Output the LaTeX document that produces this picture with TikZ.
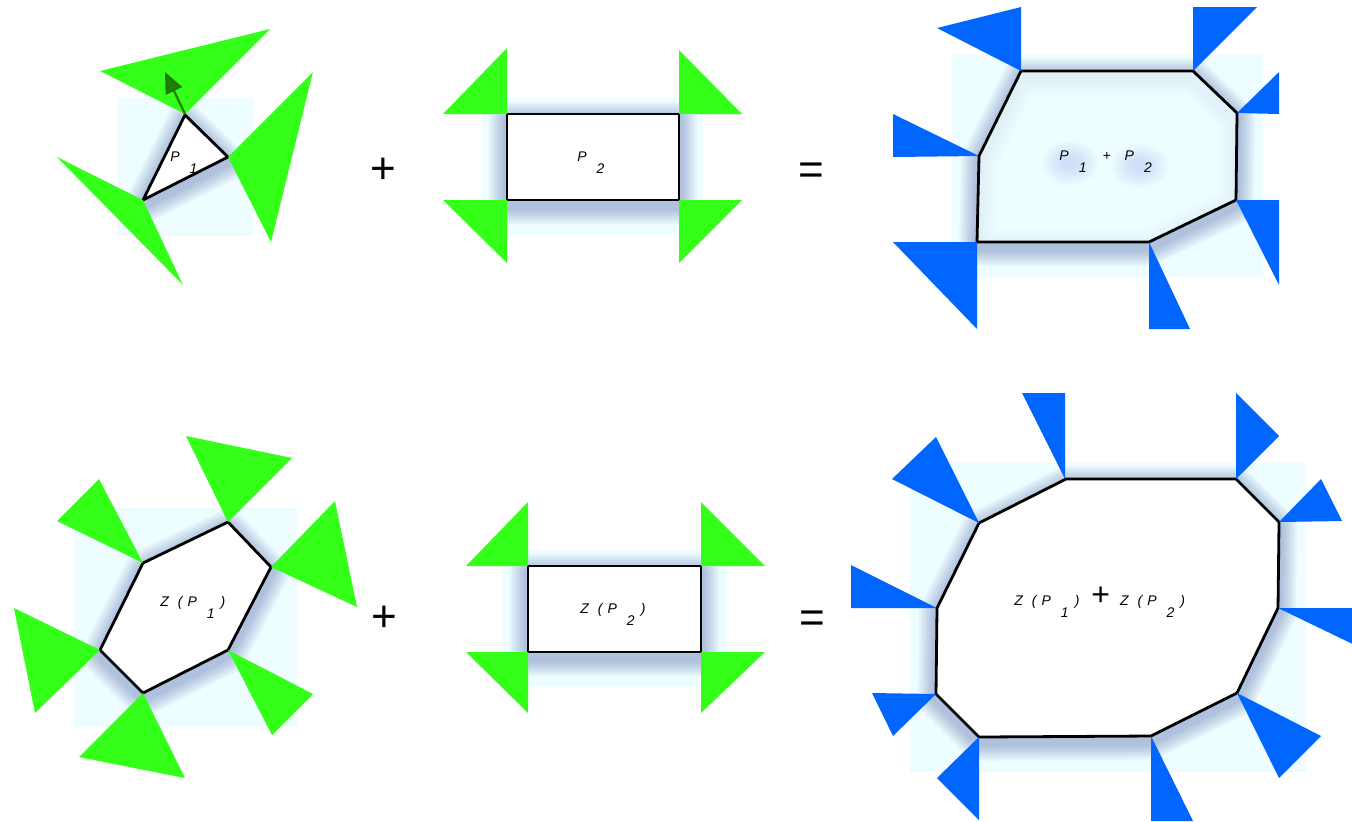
\documentclass[tikz,border=0pt]{standalone}
\usepackage{fontspec}
\setsansfont{Liberation Sans}
\usetikzlibrary{arrows.meta}
\definecolor{bgc}{RGB}{238,253,255}
\definecolor{grn}{RGB}{51,255,25}
\definecolor{blu}{RGB}{0,102,255}
\definecolor{shc}{RGB}{40,60,150}
\definecolor{arrc}{RGB}{30,115,5}
\definecolor{glc}{RGB}{110,140,240}
\newcommand{\polyshade}[1]{\foreach \w in {18,16,14,12,10,8,6,4}{\draw[shc,opacity=0.045,line width=\w pt,line join=round,yshift=-2.8pt] #1;}}
\newcommand{\subs}[1]{\hspace{5pt}\raisebox{-6pt}{#1}}
\begin{document}
\begin{tikzpicture}[x=0.5pt,y=-0.5pt,
  cone/.style={fill=grn},
  bcone/.style={fill=blu},
  bgbox/.style={fill=bgc},
  poly/.style={draw=black,line width=1.4pt,line join=round},
  lab/.style={font=\sffamily\itshape\fontsize{7}{8}\selectfont,anchor=base west,inner sep=0pt},
  op/.style={font=\sffamily\fontsize{22}{24}\selectfont,inner sep=0pt,anchor=base}]
\useasboundingbox (0,0) rectangle (1352,821);

% ---------- top left: P1
\fill[bgbox] (117,98) rectangle (253,236);
\polyshade{(185,115)--(228,157)--(143,200)--cycle}
\draw[poly,fill=white] (185,115)--(228,157)--(143,200)--cycle;
\fill[cone] (185,114)--(100,71)--(270,29)--cycle;
\fill[cone] (228,157)--(313,72)--(271,242)--cycle;
\fill[cone] (143,200)--(57,157)--(183,285)--cycle;
\coordinate (v1) at (185,114);
\coordinate (n1) at (165,72);
\draw[arrc,opacity=0.9,line width=1.1pt,-{Triangle[length=10.5pt,width=9pt]}] (v1) -- (n1);
\node[lab] (lp1) at (170,161) {P\subs{1}};

\node[op] (plus1) at (383,183) {+};

% ---------- top middle: P2
\fill[bgbox] (482,98) rectangle (703,235);
\polyshade{(507,114) rectangle (679,200)}
\draw[poly,fill=white] (507,114) rectangle (679,200);
\fill[cone] (507,48)--(443,114)--(507,114)--cycle;
\fill[cone] (679,50)--(742,114)--(679,114)--cycle;
\fill[cone] (443,200)--(507,200)--(507,263)--cycle;
\fill[cone] (679,200)--(742,200)--(679,263)--cycle;
\node[lab] (lp2) at (577,161) {P\subs{2}};

\node[op] (eq1) at (811,184) {=};

% ---------- top right: P1 + P2
\fill[bgbox] (952,55) rectangle (1263,277);
\polyshade{(1021,71)--(1193,71)--(1237,113)--(1236,200)--(1149,242)--(977,242)--(979,156)--cycle}
\draw[poly,fill=bgc,fill opacity=0.8] (1021,71)--(1193,71)--(1237,113)--(1236,200)--(1149,242)--(977,242)--(979,156)--cycle;
\foreach \r in {1,...,8}{
  \fill[glc,opacity=0.03] (1070,163) ellipse ({4+3*\r} and {3+2.4*\r});
  \fill[glc,opacity=0.03] (1140,166) ellipse ({4+3*\r} and {3+2.4*\r});
}
\fill[bcone] (1021,71)--(937,28)--(1021,7)--cycle;
\fill[bcone] (1193,71)--(1193,7)--(1257,7)--cycle;
\fill[bcone] (1237,113)--(1279,72)--(1279,114)--cycle;
\fill[bcone] (1236,200)--(1279,200)--(1279,285)--cycle;
\fill[bcone] (1149,242)--(1190,329)--(1149,329)--cycle;
\fill[bcone] (977,242)--(893,242)--(977,329)--cycle;
\fill[bcone] (979,156)--(893,114)--(893,157)--cycle;
\node[lab] (lsum) at (1059,160) {P\subs{1}\hspace{8pt}+\hspace{7pt}P\subs{2}};

% ---------- bottom left: Z(P1)
\fill[bgbox] (74,508) rectangle (297,727);
\polyshade{(143,563)--(228,522)--(271,567)--(228,650)--(143,693)--(100,650)--cycle}
\draw[poly,fill=white] (143,563)--(228,522)--(271,567)--(228,650)--(143,693)--(100,650)--cycle;
\fill[cone] (143,563)--(57,521)--(99,479)--cycle;
\fill[cone] (228,522)--(186,436)--(292,458)--cycle;
\fill[cone] (271,567)--(335,501)--(357,607)--cycle;
\fill[cone] (228,650)--(313,694)--(272,735)--cycle;
\fill[cone] (143,693)--(79,757)--(185,778)--cycle;
\fill[cone] (100,650)--(14,608)--(35,713)--cycle;
\node[lab] (lz1) at (160,606) {Z\hspace{4.5pt}(\hspace{2.5pt}P\subs{1}\hspace{3pt})};

\node[op] (plus2) at (384,631) {+};

% ---------- bottom middle: Z(P2)
\fill[bgbox] (503,550) rectangle (727,687);
\polyshade{(528,566) rectangle (701,652)}
\draw[poly,fill=white] (528,566) rectangle (701,652);
\fill[cone] (528,502)--(466,566)--(528,566)--cycle;
\fill[cone] (701,502)--(765,566)--(701,566)--cycle;
\fill[cone] (466,652)--(528,652)--(528,713)--cycle;
\fill[cone] (701,652)--(765,652)--(701,713)--cycle;
\node[lab] (lz2) at (580,613) {Z\hspace{4.5pt}(\hspace{2.5pt}P\subs{2}\hspace{3pt})};

\node[op] (eq2) at (812,632) {=};

% ---------- bottom right: Z(P1) + Z(P2)
\fill[bgbox] (910,463) rectangle (1306,772);
\polyshade{(979,523)--(1066,479)--(1236,479)--(1279,522)--(1278,608)--(1237,693)--(1151,736)--(979,737)--(936,694)--(937,608)--cycle}
\draw[poly,fill=white] (979,523)--(1066,479)--(1236,479)--(1279,522)--(1278,608)--(1237,693)--(1151,736)--(979,737)--(936,694)--(937,608)--cycle;
\fill[bcone] (979,523)--(892,479)--(936,437)--cycle;
\fill[bcone] (1065,479)--(1022,393)--(1065,393)--cycle;
\fill[bcone] (1236,479)--(1236,393)--(1279,436)--cycle;
\fill[bcone] (1279,522)--(1321,479)--(1342,521)--cycle;
\fill[bcone] (1278,608)--(1372,608)--(1363,649)--cycle;
\fill[bcone] (1237,693)--(1321,736)--(1279,778)--cycle;
\fill[bcone] (1151,736)--(1193,821)--(1151,821)--cycle;
\fill[bcone] (979,737)--(937,778)--(979,820)--cycle;
\fill[bcone] (936,694)--(872,693)--(893,736)--cycle;
\fill[bcone] (937,608)--(851,565)--(851,608)--cycle;
\node[lab] (lzsum) at (1014,605) {Z\hspace{4.5pt}(\hspace{2.5pt}P\subs{1}\hspace{3pt})\hspace{6pt}{\upshape\fontsize{16}{16}\selectfont +}\hspace{5pt}Z\hspace{4.5pt}(\hspace{2.5pt}P\subs{2}\hspace{3pt})};
\end{tikzpicture}
\end{document}
